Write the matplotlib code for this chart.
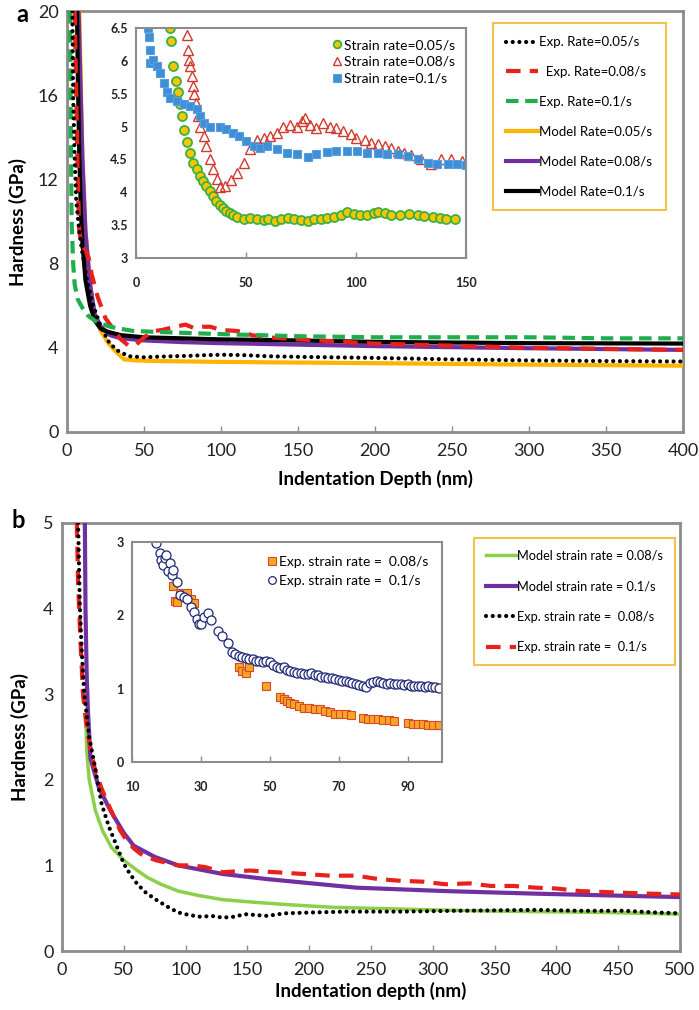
import matplotlib
matplotlib.use("Agg")
import matplotlib.pyplot as plt

plt.rcParams['font.family'] = ['Lato', 'DejaVu Sans']

GREY = '#8c8c8c'

# ---------- panel a, main curves ----------
a_exp05_x = [3.5, 4, 5, 6, 8, 10, 13, 17, 22, 27, 32, 40, 50, 60, 70, 80, 90, 100, 115, 130, 150, 200, 250, 300, 350, 400]
a_exp05_y = [20, 16, 13, 11, 9.5, 8.5, 7.2, 6, 5, 4.3, 3.9, 3.6, 3.55, 3.58, 3.6, 3.62, 3.65, 3.67, 3.65, 3.6, 3.57, 3.52, 3.45, 3.4, 3.37, 3.35]

a_exp08_x = [5, 6, 7, 8, 10, 12, 14, 16, 20, 25, 30, 35, 40, 45, 50, 57, 62, 70, 77, 82, 88, 93, 100, 110, 115, 120, 130, 140, 150, 175, 200, 250, 300, 350, 400]
a_exp08_y = [20, 16, 12, 9.5, 8.8, 8.6, 8.3, 7.5, 6.4, 5.4, 4.9, 4.4, 4.1, 4.15, 4.5, 4.8, 4.85, 5.0, 5.1, 4.95, 5.0, 5.0, 4.85, 4.8, 4.75, 4.6, 4.5, 4.45, 4.4, 4.3, 4.2, 4.1, 4.0, 3.95, 3.9]

a_exp10_x = [2, 2.5, 3, 4, 5, 7, 10, 14, 20, 28, 35, 43, 60, 80, 100, 150, 200, 250, 300, 350, 400]
a_exp10_y = [20, 14, 10, 8, 7, 6.3, 5.9, 5.5, 5.2, 5.0, 4.9, 4.8, 4.75, 4.7, 4.65, 4.55, 4.5, 4.5, 4.5, 4.45, 4.45]

a_mod05_x = [8, 10, 12, 15, 18, 22, 27, 32, 37, 45, 60, 100, 150, 200, 300, 400]
a_mod05_y = [20, 13, 9.5, 7, 5.4, 4.8, 4.2, 3.8, 3.45, 3.4, 3.37, 3.33, 3.3, 3.27, 3.2, 3.15]

a_mod08_x = [7.5, 10, 12, 15, 18, 22, 28, 35, 50, 75, 100, 150, 200, 300, 400]
a_mod08_y = [20, 13, 9.5, 7, 5.6, 5.0, 4.6, 4.45, 4.35, 4.27, 4.22, 4.15, 4.08, 3.98, 3.9]

a_mod10_x = [6.5, 7, 8, 9, 10, 12, 15, 18, 22, 27, 35, 50, 75, 100, 150, 200, 300, 400]
a_mod10_y = [20, 17, 13, 10.5, 9, 7.2, 6, 5.3, 4.9, 4.75, 4.6, 4.5, 4.45, 4.4, 4.35, 4.28, 4.22, 4.2]

# ---------- panel a, inset ----------
ia_05_x = [15.5, 16, 17, 18, 19.3, 20, 20.8, 22, 23, 24.5, 26, 27.5, 29, 30.5, 32, 33.5, 35, 36.5, 38, 39.5, 41, 42.5, 44, 46, 49, 52, 55, 58, 60, 63, 66, 69, 72, 75, 78, 81, 84, 87, 90, 93, 96, 99, 102, 105, 108, 110, 113, 116, 120, 124, 128, 131, 135, 138, 141, 145]
ia_05_y = [6.5, 6.3, 5.92, 5.7, 5.52, 5.35, 5.16, 4.95, 4.76, 4.6, 4.45, 4.35, 4.25, 4.17, 4.1, 4.02, 3.95, 3.87, 3.8, 3.76, 3.72, 3.68, 3.65, 3.62, 3.6, 3.61, 3.6, 3.58, 3.6, 3.56, 3.6, 3.61, 3.59, 3.58, 3.57, 3.6, 3.6, 3.61, 3.62, 3.66, 3.7, 3.67, 3.66, 3.66, 3.68, 3.7, 3.68, 3.66, 3.66, 3.67, 3.65, 3.64, 3.62, 3.61, 3.6, 3.59]

ia_08_x = [23, 23.5, 24, 24.6, 25.4, 26, 26.4, 27.2, 28.4, 29, 30.7, 32, 33.7, 35, 36.8, 38.3, 40.6, 43, 46, 49, 52, 55, 58, 61, 64, 67, 70, 73, 75.5, 77, 79, 82, 85, 88, 91, 94, 97.5, 100, 104, 107, 110, 113, 116, 119, 122, 125, 129.5, 134, 138.6, 143, 148]
ia_08_y = [6.4, 6.17, 6.02, 5.92, 5.77, 5.62, 5.49, 5.36, 5.16, 5.0, 4.86, 4.7, 4.5, 4.35, 4.2, 4.08, 4.1, 4.18, 4.3, 4.45, 4.66, 4.8, 4.83, 4.86, 4.9, 5.0, 5.03, 5.0, 5.08, 5.13, 5.03, 4.98, 5.05, 5.0, 4.98, 4.93, 4.88, 4.83, 4.8, 4.75, 4.73, 4.7, 4.68, 4.63, 4.6, 4.57, 4.5, 4.43, 4.5, 4.51, 4.48]

ia_10_x = [5.6, 6, 6.4, 6.4, 7.9, 9.4, 11, 12.5, 14, 15.5, 18.5, 21.6, 24.6, 27.7, 29, 30.7, 33.7, 38.3, 41, 44, 47, 50, 53.5, 56.5, 59.6, 64, 68.7, 73, 78, 82, 87, 91, 96, 100.6, 105, 110, 114, 119, 123.5, 128, 132.5, 137, 142, 146, 150]
ia_10_y = [6.5, 6.37, 6.17, 5.97, 6.02, 5.92, 5.82, 5.67, 5.52, 5.44, 5.39, 5.34, 5.31, 5.26, 5.16, 5.06, 5.0, 5.0, 4.96, 4.9, 4.86, 4.78, 4.7, 4.68, 4.7, 4.66, 4.6, 4.58, 4.53, 4.58, 4.62, 4.63, 4.63, 4.63, 4.6, 4.6, 4.58, 4.58, 4.55, 4.5, 4.45, 4.43, 4.43, 4.43, 4.42]

# ---------- panel b, main curves ----------
b_mod08_x = [19.5, 20, 22, 27, 33, 40, 50, 60, 69, 80, 94, 110, 130, 155, 184, 220, 274, 330, 383, 440, 500]
b_mod08_y = [2.6, 2.34, 2.0, 1.64, 1.4, 1.21, 1.06, 0.95, 0.86, 0.78, 0.7, 0.65, 0.6, 0.57, 0.54, 0.51, 0.49, 0.47, 0.46, 0.45, 0.43]

b_mod10_x = [18.5, 19, 20, 21, 23, 30, 40, 50, 58, 75, 94, 130, 166, 238, 310, 383, 440, 500]
b_mod10_y = [5.0, 4.0, 3.2, 2.8, 2.25, 1.9, 1.62, 1.38, 1.23, 1.1, 1.0, 0.9, 0.84, 0.74, 0.7, 0.67, 0.65, 0.63]

b_exp08_x = [13, 14.5, 16, 18, 22, 26, 32, 38, 43, 50, 55, 61, 68, 76, 85, 94, 103, 112, 121, 130, 139, 148, 157, 166, 180, 202, 230, 274, 320, 383, 420, 455, 480, 500]
b_exp08_y = [5.0, 4.0, 3.5, 3.0, 2.5, 2.2, 1.72, 1.45, 1.27, 1.02, 0.9, 0.78, 0.68, 0.6, 0.52, 0.45, 0.42, 0.4, 0.41, 0.39, 0.4, 0.43, 0.42, 0.41, 0.44, 0.45, 0.46, 0.46, 0.47, 0.48, 0.47, 0.47, 0.45, 0.44]

b_exp10_x = [12, 13, 15, 17, 20, 24, 27, 32, 36, 41, 47, 52, 58, 65, 76, 85, 94, 105, 116, 123, 130, 140, 152, 162, 173, 195, 217, 238, 256, 274, 292, 310, 330, 347, 365, 383, 400, 419, 437, 455, 475, 500]
b_exp10_y = [5.0, 4.3, 3.6, 3.0, 2.6, 2.3, 2.1, 1.9, 1.76, 1.6, 1.41, 1.3, 1.2, 1.12, 1.06, 1.03, 1.0, 1.0, 0.98, 0.95, 0.92, 0.93, 0.94, 0.93, 0.92, 0.9, 0.88, 0.88, 0.84, 0.82, 0.81, 0.78, 0.79, 0.76, 0.76, 0.74, 0.73, 0.7, 0.69, 0.68, 0.67, 0.66]

# ---------- panel b, inset ----------
ib_08_x = [22, 22.5, 23, 24, 25, 26, 27, 28, 41, 42, 43, 44, 49, 53, 54, 55, 56, 57, 58.5, 60, 61.5, 63, 64.5, 66, 67.5, 69, 70.5, 72, 73.5, 77, 78.5, 80, 81.5, 83, 84.5, 86, 90, 91.5, 93, 94.5, 96, 97.5, 99]
ib_08_y = [2.4, 2.2, 2.18, 2.3, 2.28, 2.3, 2.22, 2.17, 1.3, 1.24, 1.22, 1.3, 1.04, 0.88, 0.86, 0.83, 0.8, 0.79, 0.76, 0.74, 0.74, 0.72, 0.72, 0.7, 0.68, 0.66, 0.66, 0.65, 0.64, 0.6, 0.59, 0.58, 0.58, 0.57, 0.57, 0.56, 0.53, 0.52, 0.52, 0.52, 0.51, 0.51, 0.51]

ib_10_x = [17, 18, 18.5, 19, 19.5, 20, 20.5, 21, 21.5, 22, 23, 24, 25, 26, 27, 28, 29, 29.5, 30, 31, 32, 33, 35, 36, 38, 39, 40, 41, 42, 43, 44, 45, 46, 47, 48, 49, 50, 51, 52, 53, 54, 55, 56, 57, 58, 59, 60, 61, 62, 63, 64, 65, 66, 67, 68, 69, 70, 71, 72, 73, 74, 75, 76, 77, 78, 79, 80, 81, 82, 83, 84, 85, 86, 87, 88, 89, 90, 91, 92, 93, 94, 95, 96, 97, 98, 99]
ib_10_y = [2.98, 2.85, 2.75, 2.68, 2.78, 2.82, 2.6, 2.72, 2.55, 2.62, 2.45, 2.28, 2.25, 2.22, 2.12, 2.05, 1.95, 1.88, 1.88, 1.98, 2.03, 1.93, 1.78, 1.72, 1.62, 1.5, 1.47, 1.45, 1.43, 1.42, 1.41, 1.4, 1.38, 1.38, 1.37, 1.38, 1.36, 1.32, 1.3, 1.28, 1.3, 1.26, 1.24, 1.23, 1.22, 1.21, 1.2, 1.2, 1.22, 1.19, 1.18, 1.16, 1.16, 1.15, 1.14, 1.13, 1.12, 1.11, 1.1, 1.09, 1.08, 1.07, 1.05, 1.03, 1.02, 1.08, 1.09, 1.1, 1.09, 1.08, 1.07, 1.08, 1.07, 1.06, 1.06, 1.05, 1.06, 1.04, 1.03, 1.04, 1.03, 1.02, 1.03, 1.02, 1.02, 1.01]


def style_axes(ax, lw=2.0, fs=12, bold=False):
    for sp in ax.spines.values():
        sp.set_color(GREY)
        sp.set_linewidth(lw)
    ax.tick_params(axis='x', direction='in', length=4, width=1, color=GREY,
                   labelsize=fs, pad=8)
    ax.tick_params(axis='y', length=0, labelsize=fs, pad=6)
    for t in ax.get_xticklabels() + ax.get_yticklabels():
        t.set_color('#222222')
        if bold:
            t.set_fontweight('bold')


fig = plt.figure(figsize=(6.99, 10.10), dpi=100)

# =================== panel a ===================
ax = fig.add_axes([67 / 699, 1 - 432 / 1010, 616 / 699, 421 / 1010])
ax.plot(a_exp05_x, a_exp05_y, color='black', lw=3, ls=(0, (0.01, 1.6)),
        dash_capstyle='round', label='Exp. Rate=0.05/s', zorder=5)
ax.plot(a_exp08_x, a_exp08_y, color='#e8221b', lw=3, ls=(0, (3.5, 2.2)),
        label='  Exp. Rate=0.08/s', zorder=4)
ax.plot(a_exp10_x, a_exp10_y, color='#1fae4b', lw=3, ls=(0, (3, 1.6)),
        label='Exp. Rate=0.1/s', zorder=4)
ax.plot(a_mod05_x, a_mod05_y, color='#ffb400', lw=3, label='Model Rate=0.05/s', zorder=3)
ax.plot(a_mod08_x, a_mod08_y, color='#7030a0', lw=3, label='Model Rate=0.08/s', zorder=3)
ax.plot(a_mod10_x, a_mod10_y, color='black', lw=3, label='Model Rate=0.1/s', zorder=3)
ax.set_xlim(0, 400)
ax.set_ylim(0, 20)
ax.set_xticks(range(0, 401, 50))
ax.set_yticks(range(0, 21, 4))
style_axes(ax, fs=13)
ax.set_xlabel('Indentation Depth (nm)', fontsize=13.5, fontweight='bold', labelpad=8)
ax.set_ylabel('Hardness (GPa)', fontsize=13.5, fontweight='bold', labelpad=8)
leg = ax.legend(loc='upper left', bbox_to_anchor=((493 - 67) / 616, 1 - (23 - 11) / 421),
                borderaxespad=0, fontsize=9.5, handlelength=2.4, handletextpad=0.1,
                labelspacing=1.35, borderpad=1.0, fancybox=False, framealpha=1)
leg.get_frame().set_edgecolor('#f2c14e')
leg.get_frame().set_linewidth(1.5)
fig.text(22 / 699, 1 - 14 / 1010, 'a', fontsize=17, fontweight='bold', va='center', ha='center')

# inset a
ia = fig.add_axes([136 / 699, 1 - 258 / 1010, 330 / 699, 230 / 1010])
ia.plot(ia_05_x, ia_05_y, ls='none', marker='o', ms=6.5, mfc='#f7c600', mec='#3cb043',
        mew=1.3, label='Strain rate=0.05/s')
ia.plot(ia_08_x, ia_08_y, ls='none', marker='^', ms=6.5, mfc='none', mec='#d03a2f',
        mew=1.0, label='Strain rate=0.08/s')
ia.plot(ia_10_x, ia_10_y, ls='none', marker='s', ms=6, mfc='#3d8fd6', mec='#5aa0e0',
        mew=0.8, label='Strain rate=0.1/s')
ia.set_xlim(0, 150)
ia.set_ylim(3, 6.5)
ia.set_xticks([0, 50, 100, 150])
ia.set_yticks([3, 3.5, 4, 4.5, 5, 5.5, 6, 6.5])
ia.set_yticklabels(['3', '3.5', '4', '4.5', '5', '5.5', '6', '6.5'])
style_axes(ia, lw=1.5, fs=9, bold=True)
ia.tick_params(axis='x', pad=14)
ia.legend(loc='upper right', frameon=False, fontsize=10, handletextpad=0.1,
          markerscale=0.85, handlelength=0.8, labelspacing=0.35, borderaxespad=0.4)

# =================== panel b ===================
bx = fig.add_axes([62 / 699, 1 - 951 / 1010, 618 / 699, 428 / 1010])
bx.plot(b_mod08_x, b_mod08_y, color='#8dcf4a', lw=2.5, label='Model strain rate = 0.08/s', zorder=3)
bx.plot(b_mod10_x, b_mod10_y, color='#7030a0', lw=3, label='Model strain rate = 0.1/s', zorder=3)
bx.plot(b_exp08_x, b_exp08_y, color='black', lw=3, ls=(0, (0.01, 1.6)), dash_capstyle='round',
        label='Exp. strain rate =  0.08/s', zorder=5)
bx.plot(b_exp10_x, b_exp10_y, color='#e8221b', lw=3, ls=(0, (3.5, 2.2)),
        label='Exp. strain rate =  0.1/s', zorder=4)
bx.set_xlim(0, 500)
bx.set_ylim(0, 5)
bx.set_xticks(range(0, 501, 50))
bx.set_yticks(range(0, 6))
style_axes(bx, fs=13)
bx.set_xlabel('Indentation depth (nm)', fontsize=13.5, fontweight='bold', labelpad=3)
bx.set_ylabel('Hardness (GPa)', fontsize=13.5, fontweight='bold', labelpad=10)
leg = bx.legend(loc='upper left', bbox_to_anchor=((474 - 62) / 618, 1 - (538 - 523) / 428),
                borderaxespad=0, fontsize=9.2, handlelength=2.4, handletextpad=0.1,
                labelspacing=1.45, borderpad=0.9, fancybox=False, framealpha=1)
leg.get_frame().set_edgecolor('#f2c14e')
leg.get_frame().set_linewidth(1.5)
fig.text(18 / 699, 1 - 521 / 1010, 'b', fontsize=17, fontweight='bold', va='center', ha='center')

# inset b
ib = fig.add_axes([132 / 699, 1 - 762 / 1010, 310 / 699, 220 / 1010])
ib.plot(ib_08_x, ib_08_y, ls='none', marker='s', ms=6, mfc='#f5a623', mec='#d9482b',
        mew=0.8, label='Exp. strain rate =  0.08/s')
ib.plot(ib_10_x, ib_10_y, ls='none', marker='o', ms=6.5, mfc='white', mec='#1f2a78',
        mew=0.9, label='Exp. strain rate =  0.1/s')
ib.set_xlim(10, 100)
ib.set_ylim(0, 3)
ib.set_xticks([10, 30, 50, 70, 90])
ib.set_yticks([0, 1, 2, 3])
style_axes(ib, lw=1.5, fs=9, bold=True)
ib.tick_params(axis='x', pad=14)
ib.legend(loc='upper right', frameon=False, fontsize=10, handletextpad=0.1,
          markerscale=0.85, handlelength=0.8, labelspacing=0.5, borderaxespad=0.6)

fig.savefig('out.png', dpi=100)
